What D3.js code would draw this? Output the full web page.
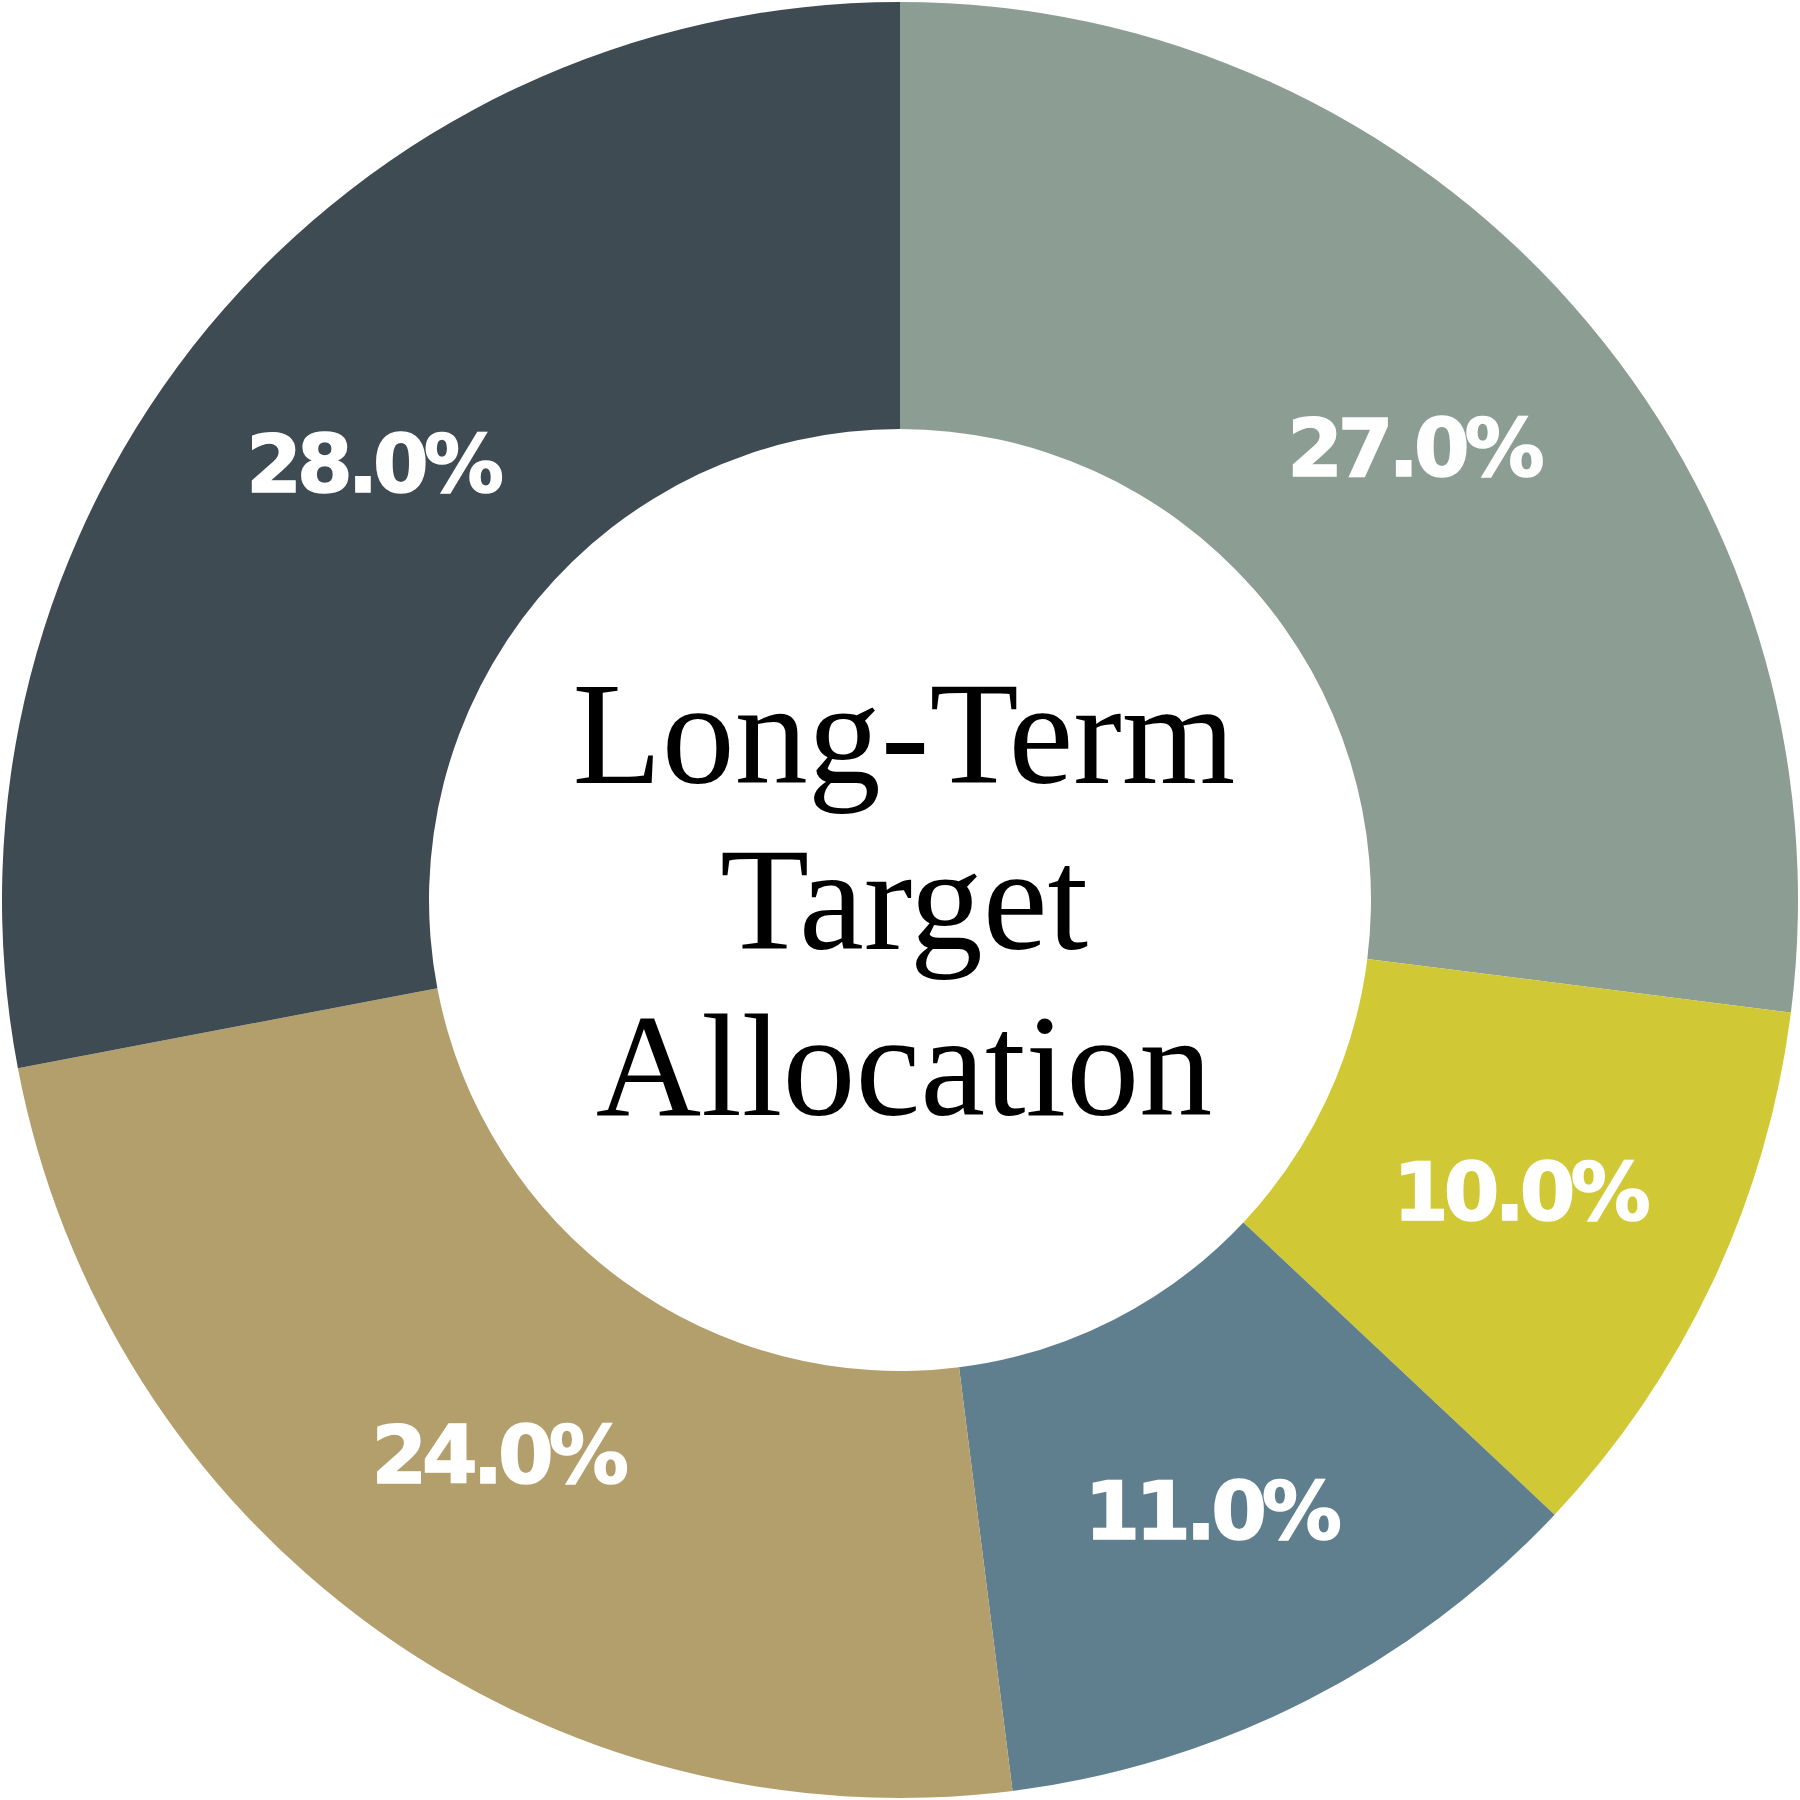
<!DOCTYPE html>
<html lang="en">
<head>
    <meta charset="UTF-8">
    <script src="https://d3js.org/d3.v7.min.js"></script>
    <title>Long-Term Target Allocation</title>
    <style>
        body { margin: 0; background: #fff; }
        #chart { width: 1800px; height: 1800px; }
    </style>
</head>
<body>
    <div id="chart"></div>
    <script>
        // slice values, clockwise from 12 o'clock
        const categories = ["A", "B", "C", "D", "E"];
        const values = [27.0, 10.0, 11.0, 24.0, 28.0];
        const colors = ["#8c9d94", "#d0c935", "#5f7f8f", "#b39f6b", "#3e4b52"];
        const titleLines = ["Long-Term", "Target", "Allocation"];

        const width = 1800;
        const height = 1800;
        const outerRadius = 898;
        const innerRadius = 471;

        const data = categories.map((c, i) => ({ category: c, value: values[i], color: colors[i] }));

        const svg = d3.select("#chart")
            .append("svg")
            .attr("width", width)
            .attr("height", height)
            .append("g")
            .attr("transform", `translate(${width / 2},${height / 2})`);

        const pie = d3.pie().sort(null).value(d => d.value);
        const arc = d3.arc().innerRadius(innerRadius).outerRadius(outerRadius);

        const slices = svg.selectAll(".slice")
            .data(pie(data))
            .enter()
            .append("g")
            .attr("class", "slice");

        slices.append("path")
            .attr("d", arc)
            .attr("fill", d => d.data.color);

        // percentage labels
        slices.append("text")
            .attr("transform", d => `translate(${arc.centroid(d)})`)
            .attr("text-anchor", "middle")
            .attr("dy", "0.36em")
            .style("font-family", "'DejaVu Sans', sans-serif")
            .style("font-weight", "bold")
            .style("font-size", "80px")
            .style("letter-spacing", "-5px")
            .style("fill", "#fff")
            .style("stroke", "#fff")
            .style("stroke-width", "1.5px")
            .text(d => `${d.data.value.toFixed(1)}%`);

        // centre title
        const title = svg.append("text")
            .attr("text-anchor", "middle")
            .style("font-family", "'Liberation Serif', serif")
            .style("font-size", "146px")
            .style("fill", "#000");

        title.selectAll("tspan")
            .data(titleLines)
            .enter()
            .append("tspan")
            .attr("x", 4)
            .attr("y", (d, i) => -117 + i * 166)
            .text(d => d);
    </script>
</body>
</html>
